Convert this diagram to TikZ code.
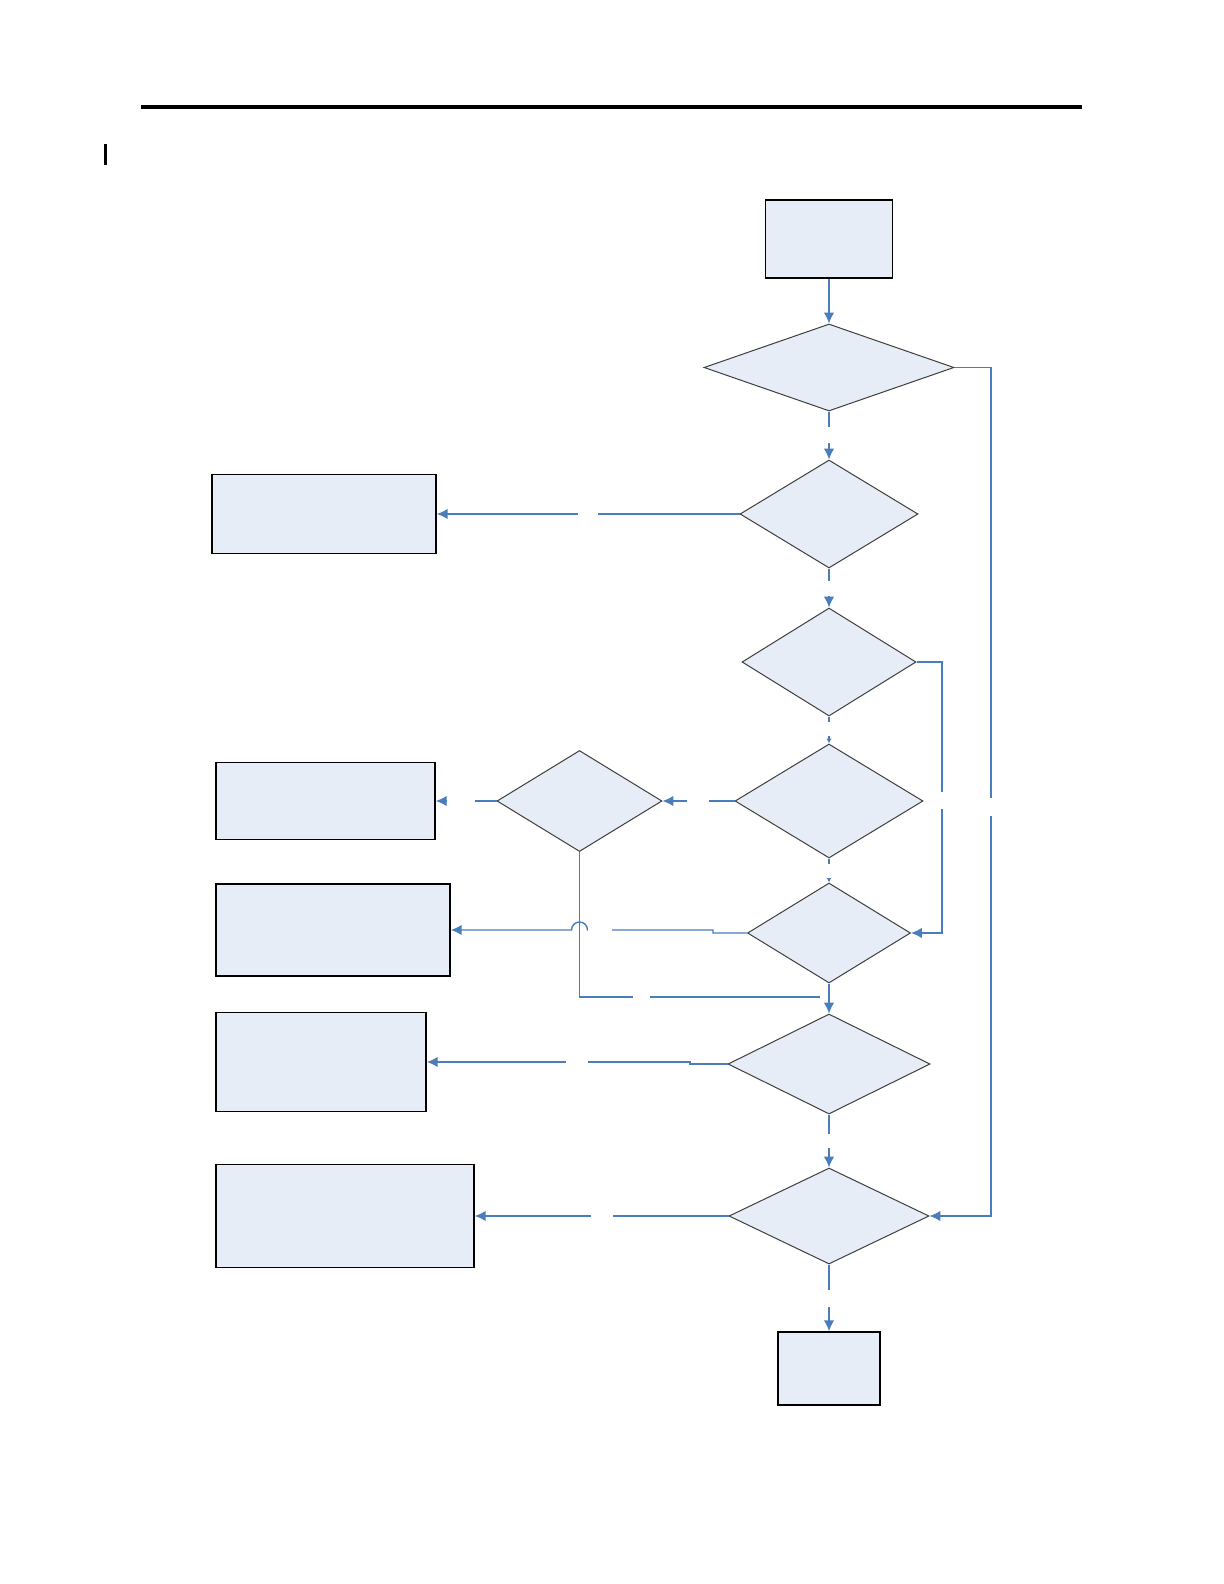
\documentclass[tikz,border=0pt]{standalone}
\usepackage{tikz}
\usetikzlibrary{shapes.geometric,arrows.meta}
\definecolor{boxfill}{HTML}{E7EDF6}
\definecolor{flowblue}{HTML}{4A7EBB}
\definecolor{edgegray}{HTML}{3F3F3F}
\tikzset{
  procbox/.style={
    draw=black,
    line width=0.8pt,
    fill=boxfill,
    inner sep=0pt
  },
  decision/.style={
    diamond,
    draw=edgegray,
    line width=0.5pt,
    fill=boxfill,
    inner sep=0pt
  },
  flow/.style={
    draw=flowblue,
    line width=0.7pt,
    -{Latex[length=5.4pt,width=5.2pt]}
  },
  tinyflow/.style={
    flow,
    -{Latex[length=2.4pt,width=2.6pt]}
  },
  plainflow/.style={
    draw=flowblue,
    line width=0.7pt
  },
  gapmark/.style={
    fill=white,
    inner sep=0pt,
    minimum height=4pt
  }
}

\begin{document}
\begin{tikzpicture}[x=0.5pt,y=-0.5pt]
  \useasboundingbox[fill=white] (0,0) rectangle (1224,1584);

  % page rule and margin bar
  \draw[line width=2.2pt] (141,107) -- (1082,107);
  \draw[line width=1.5pt] (105.5,144) -- (105.5,165);

  % main column
  \node[procbox, minimum width=63.5pt, minimum height=39pt] (start) at (829,239) {};
  \node[decision, minimum width=125pt, minimum height=43.5pt] (d1) at (829,367.5) {};
  \node[decision, minimum width=89pt, minimum height=54pt] (d2) at (829,514) {};
  \node[decision, minimum width=87pt, minimum height=54pt] (d3) at (829,662) {};
  \node[decision, minimum width=94pt, minimum height=57pt] (d4) at (829,801) {};
  \node[decision, minimum width=81.5pt, minimum height=50pt] (d6) at (829,933) {};
  \node[decision, minimum width=101pt, minimum height=50pt] (d7) at (829,1064) {};
  \node[decision, minimum width=100pt, minimum height=48pt] (d8) at (829,1216) {};
  \node[procbox, minimum width=51pt, minimum height=36.5pt] (finish) at (829,1368.5) {};

  % side column
  \node[decision, minimum width=82.5pt, minimum height=50.5pt] (d5) at (579.5,801) {};
  \node[procbox, minimum width=112pt, minimum height=39.5pt] (boxa) at (324,514) {};
  \node[procbox, minimum width=109.5pt, minimum height=38.5pt] (boxb) at (325.5,801) {};
  \node[procbox, minimum width=117pt, minimum height=46pt] (boxc) at (333,930) {};
  \node[procbox, minimum width=105pt, minimum height=49.5pt] (boxd) at (321,1062) {};
  \node[procbox, minimum width=129pt, minimum height=51.5pt] (boxe) at (345,1216) {};

  \coordinate (rbus) at (991,367.5);
  \coordinate (mbus) at (942,662);
  \coordinate (merge) at (820,997);

  % downward flow
  \draw[flow] (start.south) -- (d1.north);
  \draw[flow] (d1.south) -- (d2.north);
  \draw[flow] (d2.south) -- (d3.north);
  \draw[tinyflow] (d3.south) -- (d4.north);
  \draw[tinyflow] (d4.south) -- (d6.north);
  \draw[flow] (d6.south) -- (d7.north);
  \draw[flow] (d7.south) -- (d8.north);
  \draw[flow] (d8.south) -- (finish.north);

  % branches to the right
  \draw[flow] (d1.east) -- (rbus) |- (d8.east);
  \draw[flow] (d3.east) -- (mbus) |- (d6.east);

  % branches to the left
  \draw[flow] (d2.west) -- (boxa.east);
  \draw[flow] (d4.west) -- (d5.east);
  \draw[flow] (d5.west) -- (boxb.east);
  \draw[plainflow] (d5.south) |- (merge);
  \draw[flow] (d6.west) -- (713,933) -- (713,930) -- (587.5,930)
    arc[start angle=0, end angle=-180, radius=8] -- (boxc.east);
  \draw[flow] (d7.west) -- (690,1064) -- (690,1062) -- (boxd.east);
  \draw[flow] (d8.west) -- (boxe.east);

  % breaks in the connectors
  \node[gapmark, minimum width=2pt, minimum height=8pt] (gap1) at (829,435) {};
  \node[gapmark, minimum width=2pt, minimum height=7.5pt] (gap2) at (829,588.5) {};
  \node[gapmark, minimum width=2pt, minimum height=7pt] (gap3) at (829,729) {};
  \node[gapmark, minimum width=2pt, minimum height=7pt] (gap4) at (829,870.5) {};
  \node[gapmark, minimum width=2pt, minimum height=7pt] (gap5) at (829,1141) {};
  \node[gapmark, minimum width=2pt, minimum height=8.5pt] (gap6) at (829,1298.5) {};
  \node[gapmark, minimum width=2pt, minimum height=9pt] (gap7) at (991,807) {};
  \node[gapmark, minimum width=2pt, minimum height=8.5pt] (gap8) at (942,800) {};
  \node[gapmark, minimum width=10pt] (gap9) at (588,514) {};
  \node[gapmark, minimum width=11pt] (gap10) at (698,801) {};
  \node[gapmark, minimum width=14pt] (gap11) at (461,801) {};
  \node[gapmark, minimum width=12pt] (gap12) at (599.5,930) {};
  \node[gapmark, minimum width=8.5pt] (gap13) at (641.5,997) {};
  \node[gapmark, minimum width=11pt] (gap14) at (577,1062) {};
  \node[gapmark, minimum width=11pt] (gap15) at (602,1216) {};
\end{tikzpicture}
\end{document}
